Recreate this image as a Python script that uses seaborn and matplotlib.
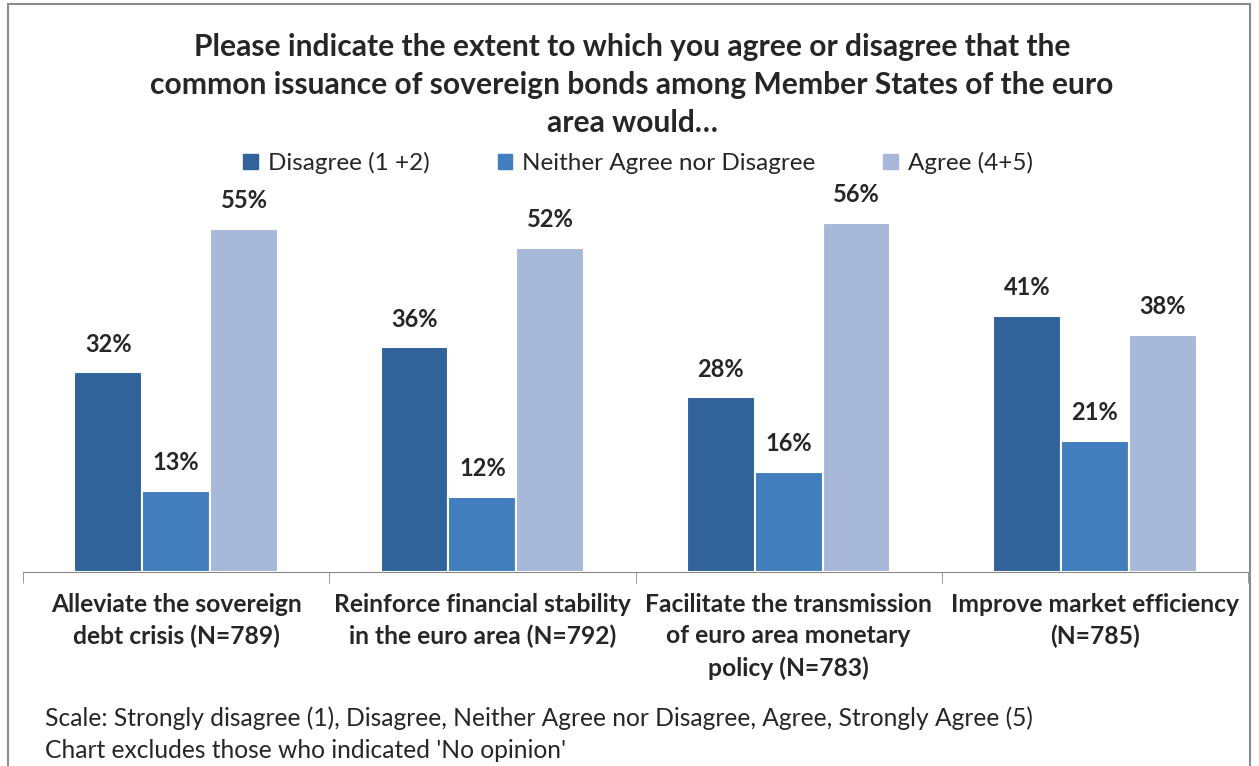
"""Common issuance of sovereign bonds - survey chart."""
import matplotlib
matplotlib.use("Agg")
import matplotlib.pyplot as plt
import matplotlib.patches as mpatches
import pandas as pd
import seaborn as sns

categories = [
    "Alleviate the sovereign\ndebt crisis (N=789)",
    "Reinforce financial stability\nin the euro area (N=792)",
    "Facilitate the transmission\nof euro area monetary\npolicy (N=783)",
    "Improve market efficiency\n(N=785)",
]
series = ["Disagree (1 +2)", "Neither Agree nor Disagree", "Agree (4+5)"]
disagree = [32, 36, 28, 41]
neither = [13, 12, 16, 21]
agree = [55, 52, 56, 38]
colors = ["#31629a", "#427dbd", "#a8b8d8"]

title = ("Please indicate the extent to which you agree or disagree that the\n"
         "common issuance of sovereign bonds among Member States of the euro\n"
         "area would…")
notes = ["Scale: Strongly disagree (1), Disagree, Neither Agree nor Disagree, Agree, Strongly Agree (5)",
         "Chart excludes those who indicated 'No opinion'"]

df = pd.DataFrame({
    "categoria": categories * 3,
    "serie": [series[0]] * 4 + [series[1]] * 4 + [series[2]] * 4,
    "valor": disagree + neither + agree,
})

sns.set_style("white")
plt.rcParams["font.family"] = ["Lato", "DejaVu Sans"]

W, H = 1259, 766
fig = plt.figure(figsize=(W / 100, H / 100), dpi=100)
px_per = 6.24
ymax = 60
ax = fig.add_axes([23 / W, 194 / H, 1225 / W, ymax * px_per / H])

sns.barplot(data=df, x="categoria", y="valor", hue="serie", order=categories,
            hue_order=series, palette=colors, saturation=1, width=0.665, gap=0,
            edgecolor="white", linewidth=1.5, ax=ax, legend=False)

for cont in ax.containers:
    ax.bar_label(cont, labels=[f"{v:.0f}%" for v in cont.datavalues],
                 padding=12, fontsize=17, fontweight="bold")

ax.set_xlim(-0.5, 3.5)
ax.set_ylim(0, ymax)
ax.set_xlabel("")
ax.set_ylabel("")
ax.set_yticks([])
for s in ["top", "left", "right"]:
    ax.spines[s].set_visible(False)
ax.spines["bottom"].set_color("#888888")
ax.set_xticks(range(4))
ax.set_xticklabels(categories, fontsize=17.7, fontweight="bold", linespacing=1.45)
ax.set_xticks([-0.5, 0.5, 1.5, 2.5, 3.5], minor=True)
ax.tick_params(axis="x", which="major", length=0, pad=15)
ax.tick_params(axis="x", which="minor", length=8, color="#888888", direction="out", bottom=True)

handles = [mpatches.Patch(color=c, label=s) for c, s in zip(colors, series)]
fig.legend(handles=handles, ncol=3, loc="center", bbox_to_anchor=(638 / W, 1 - 163 / H),
           frameon=False, fontsize=17.5, handlelength=0.6, handleheight=0.6,
           handletextpad=0.4, columnspacing=2.8)

fig.text(632 / W, 1 - 85 / H, title, ha="center", va="center", fontsize=21.6,
         fontweight="bold", linespacing=1.45)
fig.text(45 / W, 1 - 718 / H, notes[0], ha="left", va="center", fontsize=17.7)
fig.text(45 / W, 1 - 750 / H, notes[1], ha="left", va="center", fontsize=17.7)

fig.patches.append(mpatches.Rectangle((8 / W, -0.02), 1242 / W, 1.02 - 4 / H,
                                      transform=fig.transFigure, fill=False,
                                      edgecolor="#8c8c8c", linewidth=1.5))

fig.savefig("out.png", dpi=100)
